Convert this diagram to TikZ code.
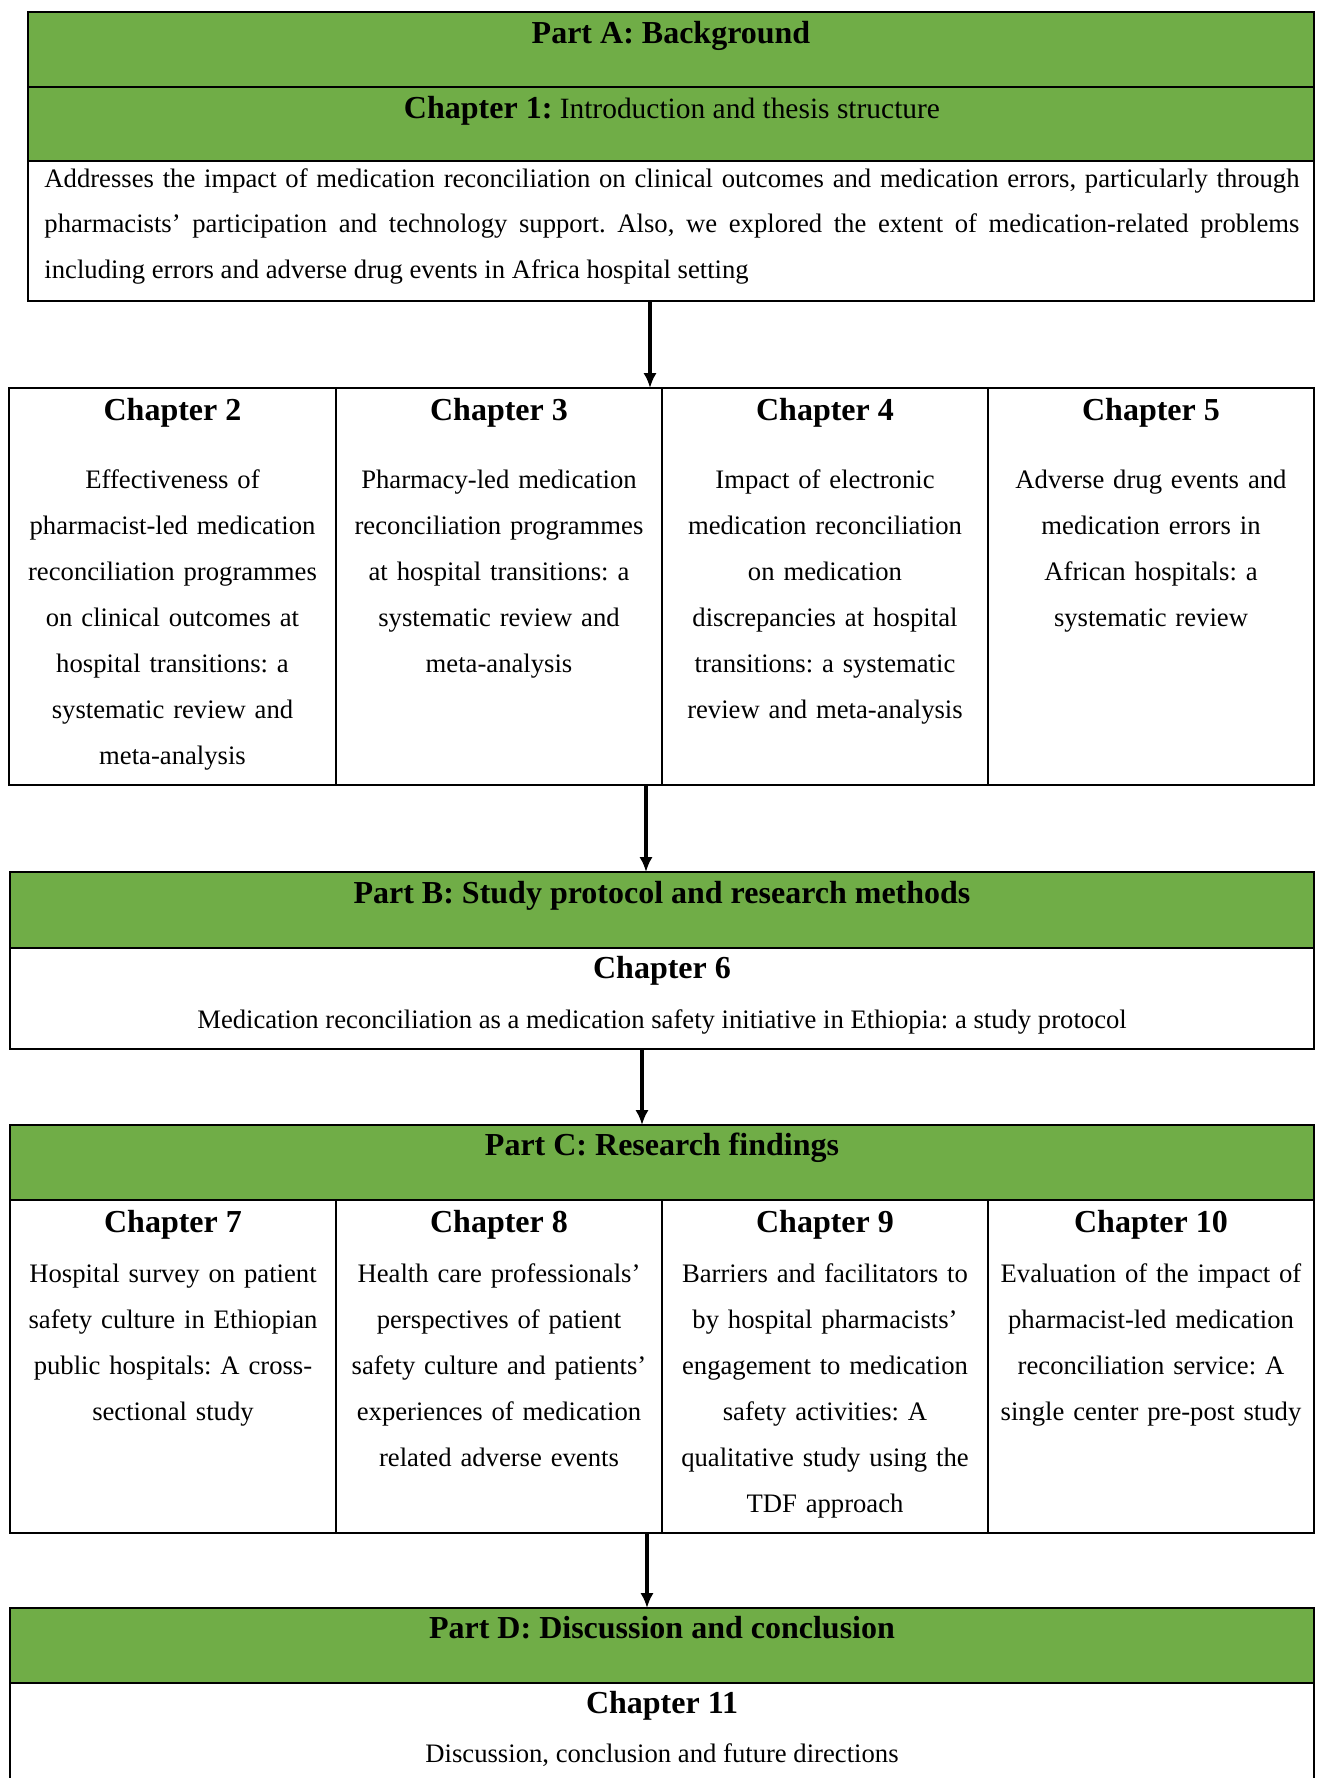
\documentclass[tikz,border=0pt]{standalone}
\usepackage{fontspec}
\setmainfont{Liberation Serif}
\usetikzlibrary{arrows.meta,fit}
\definecolor{partgreen}{HTML}{70AD47}
\frenchspacing
\begin{document}
\frenchspacing
\begin{tikzpicture}[x=0.45pt,y=-0.45pt,
  cell/.style={draw=black, line width=0.9pt, inner sep=0pt, outer sep=0pt},
  greencell/.style={cell, fill=partgreen},
  txt/.style={inner sep=0pt, yshift=-0.9pt},
  headtext/.style={txt, anchor=base, font=\fontsize{14.4}{17}\selectfont\bfseries},
  headplain/.style={txt, anchor=base, font=\fontsize{13.25}{17}\selectfont},
  colhead/.style={txt, anchor=base, font=\fontsize{14.4}{17}\selectfont\bfseries},
  coltext/.style={txt, anchor=base, text width=150pt, align=center, font=\fontsize{12}{20.72}\selectfont\frenchspacing},
  linetext/.style={txt, anchor=base, font=\fontsize{12}{20.72}\selectfont\frenchspacing},
  flow/.style={-{Latex[length=6.75pt,width=6pt]}, line width=1.4pt},
]
\path[use as bounding box, fill=white] (0,0) rectangle (1319,1778);
\clip (0,0) rectangle (1319,1778);

% Part A
\node[greencell, fit={(28,12) (1314,87)}] (pA) {};
\node[greencell, fit={(28,87) (1314,161)}] (ch1) {};
\node[cell, fit={(28,161) (1314,301)}] (ch1body) {};
\node[headtext] (pAt) at (671,41.7) {Part A: Background};
\node[headplain] (ch1t) at (672,116.7) {{\fontsize{14.4}{17}\selectfont\bfseries Chapter 1:} Introduction and thesis structure};
\node[txt, anchor=base west, text width=564.75pt, align=justify,
      font=\fontsize{12}{20.6}\selectfont\frenchspacing] (ch1p) at (44,185)
 {Addresses the impact of medication reconciliation on clinical outcomes and medication errors, particularly through\linebreak pharmacists’ participation and technology support. Also, we explored the extent of medication-related problems\linebreak including errors and adverse drug events in Africa hospital setting};

% Chapters 2-5
\node[cell, fit={(9,388) (336,785)}] (c2) {};
\node[cell, fit={(336,388) (662,785)}] (c3) {};
\node[cell, fit={(662,388) (988,785)}] (c4) {};
\node[cell, fit={(988,388) (1314,785)}] (c5) {};
\node[colhead] (c2h) at (172.5,418.3) {Chapter 2};
\node[colhead] (c3h) at (499,418.3) {Chapter 3};
\node[colhead] (c4h) at (825,418.3) {Chapter 4};
\node[colhead] (c5h) at (1151,418.3) {Chapter 5};
\node[coltext] (c2t) at (172.5,486.7) {Effectiveness of\\ pharmacist-led medication\\ reconciliation programmes\\ on clinical outcomes at\\ hospital transitions: a\\ systematic review and\\ meta-analysis};
\node[coltext] (c3t) at (499,486.7) {Pharmacy-led medication\\ reconciliation programmes\\ at hospital transitions: a\\ systematic review and\\ meta-analysis};
\node[coltext] (c4t) at (825,486.7) {Impact of electronic\\ medication reconciliation\\ on medication\\ discrepancies at hospital\\ transitions: a systematic\\ review and meta-analysis};
\node[coltext] (c5t) at (1151,486.7) {Adverse drug events and\\ medication errors in\\ African hospitals: a\\ systematic review};

% Part B
\node[greencell, fit={(10,872) (1314,948)}] (pB) {};
\node[cell, fit={(10,948) (1314,1049)}] (ch6) {};
\node[headtext] (pBt) at (662,901.7) {Part B: Study protocol and research methods};
\node[colhead] (ch6h) at (662,976.7) {Chapter 6};
\node[linetext] (ch6t) at (662,1026.7) {Medication reconciliation as a medication safety initiative in Ethiopia: a study protocol};

% Part C
\node[greencell, fit={(10,1125) (1314,1200)}] (pC) {};
\node[cell, fit={(10,1200) (336,1533)}] (c7) {};
\node[cell, fit={(336,1200) (662,1533)}] (c8) {};
\node[cell, fit={(662,1200) (988,1533)}] (c9) {};
\node[cell, fit={(988,1200) (1314,1533)}] (c10) {};
\node[headtext] (pCt) at (662,1153) {Part C: Research findings};
\node[colhead] (c7h) at (173,1230) {Chapter 7};
\node[colhead] (c8h) at (499,1230) {Chapter 8};
\node[colhead] (c9h) at (825,1230) {Chapter 9};
\node[colhead] (c10h) at (1151,1230) {Chapter 10};
\node[coltext] (c7t) at (173,1280) {Hospital survey on patient\\ safety culture in Ethiopian\\ public hospitals: A cross-\\ sectional study};
\node[coltext] (c8t) at (499,1280) {Health care professionals’\\ perspectives of patient\\ safety culture and patients’\\ experiences of medication\\ related adverse events};
\node[coltext] (c9t) at (825,1280) {Barriers and facilitators to\\ by hospital pharmacists’\\ engagement to medication\\ safety activities: A\\ qualitative study using the\\ TDF approach};
\node[coltext] (c10t) at (1151,1280) {Evaluation of the impact of\\ pharmacist-led medication\\ reconciliation service: A\\ single center pre-post study};

% Part D
\node[greencell, fit={(10,1608) (1314,1683)}] (pD) {};
\node[cell, fit={(10,1683) (1314,1800)}] (ch11) {};
\node[headtext] (pDt) at (662,1636.7) {Part D: Discussion and conclusion};
\node[colhead] (ch11h) at (662,1711.7) {Chapter 11};
\node[linetext] (ch11t) at (662,1760) {Discussion, conclusion and future directions};

% connectors
\coordinate (ax1) at (650,0);
\coordinate (ax2) at (646,0);
\coordinate (ax3) at (642,0);
\coordinate (ax4) at (647,0);
\draw[flow] (ch1body.south -| ax1) -- (c3.north -| ax1);
\draw[flow] (c3.south -| ax2) -- (pB.north -| ax2);
\draw[flow] (ch6.south -| ax3) -- (pC.north -| ax3);
\draw[flow] (c8.south -| ax4) -- (pD.north -| ax4);
\end{tikzpicture}
\end{document}
